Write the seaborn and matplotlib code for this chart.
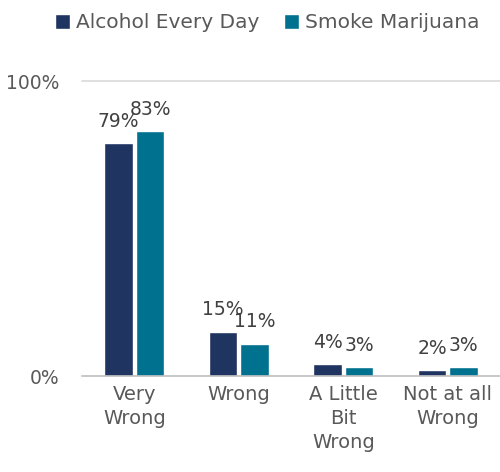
import matplotlib
matplotlib.use("Agg")
import matplotlib.pyplot as plt
import seaborn as sns
import pandas as pd
from matplotlib.patches import Patch

categories = ["Very\nWrong", "Wrong", "A Little\nBit\nWrong", "Not at all\nWrong"]
series_names = ["Alcohol Every Day", "Smoke Marijuana"]
alcohol = [79, 15, 4, 2]
marijuana = [83, 11, 3, 3]
colors = ["#1F3461", "#00718F"]
y_ticks = [0, 100]
y_tick_labels = ["0%", "100%"]

df = pd.DataFrame({
    "category": categories * 2,
    "series": [series_names[0]] * 4 + [series_names[1]] * 4,
    "value": alcohol + marijuana,
})

sns.set_theme(style="white")
plt.rcParams["font.family"] = ["DejaVu Sans"]
text_color = "#595959"

fig = plt.figure(figsize=(5.0, 4.72), dpi=100)
ax = fig.add_axes([0.164, 0.203, 0.836, 0.625])

sns.barplot(data=df, x="category", y="value", hue="series", order=categories,
            hue_order=series_names, palette=colors, width=0.603, gap=0.11,
            saturation=1, ax=ax, legend=False)

for container in ax.containers:
    ax.bar_label(container, labels=[f"{int(v)}%" for v in container.datavalues],
                 padding=9, fontsize=13.5, color="#404040")

ax.set_ylim(0, 100)
ax.set_xlim(-0.5, 3.5)
ax.set_yticks(y_ticks)
ax.set_yticklabels(y_tick_labels)
ax.tick_params(axis="y", length=0, labelsize=13.5, labelcolor=text_color, pad=16)
ax.tick_params(axis="x", length=0, labelsize=14, labelcolor=text_color, pad=6)
for lbl in ax.get_xticklabels():
    lbl.set_linespacing(1.35)
ax.set_xlabel("")
ax.set_ylabel("")
ax.axhline(100, color="#D9D9D9", lw=1.2, zorder=0, clip_on=False)
for s in ["top", "right", "left"]:
    ax.spines[s].set_visible(False)
ax.spines["bottom"].set_color("#BFBFBF")
ax.spines["bottom"].set_linewidth(1.2)

handles = [Patch(facecolor=c, label=n) for c, n in zip(colors, series_names)]
fig.legend(handles=handles, loc="upper center", bbox_to_anchor=(0.535, 1.01),
           ncol=2, frameon=False, fontsize=14.5, labelcolor=text_color,
           handlelength=0.75, handleheight=0.75, handletextpad=0.3,
           columnspacing=1.2)

fig.savefig("out.png", dpi=100)
